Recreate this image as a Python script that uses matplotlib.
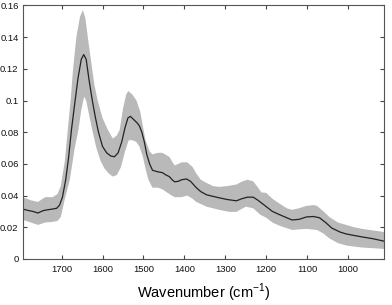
import numpy as np
import matplotlib
matplotlib.use("Agg")
import matplotlib.pyplot as plt
from matplotlib.ticker import FuncFormatter

plt.rcParams['font.family'] = ['Liberation Sans', 'DejaVu Sans']

wn_mean = [1795, 1780, 1770, 1758, 1745, 1735, 1722, 1712, 1705, 1698, 1690, 1683, 1676,
           1668, 1660, 1652, 1646, 1640, 1633, 1625, 1618, 1610, 1600, 1590, 1580, 1571,
           1562, 1553, 1545, 1538, 1532, 1524, 1516, 1510, 1504, 1498, 1492, 1485, 1478,
           1465, 1454, 1445, 1437, 1430, 1424, 1415, 1407, 1395, 1385, 1371, 1360, 1346,
           1330, 1315, 1295, 1273, 1260, 1246, 1232, 1220, 1210, 1200, 1185, 1168, 1150,
           1137, 1120, 1102, 1085, 1070, 1055, 1040, 1020, 1005, 985, 966, 940, 912]
mean = [0.0315, 0.0305, 0.030, 0.029, 0.0305, 0.031, 0.0315, 0.032, 0.034, 0.039, 0.050,
        0.064, 0.0815, 0.098, 0.114, 0.126, 0.129, 0.126, 0.113, 0.100, 0.090, 0.080,
        0.071, 0.067, 0.065, 0.0645, 0.067, 0.074, 0.083, 0.089, 0.090, 0.088, 0.086,
        0.084, 0.080, 0.074, 0.066, 0.060, 0.056, 0.055, 0.0545, 0.053, 0.052, 0.050,
        0.0487, 0.049, 0.050, 0.0505, 0.049, 0.045, 0.0425, 0.0405, 0.0395, 0.0386,
        0.0375, 0.0367, 0.038, 0.039, 0.039, 0.037, 0.035, 0.033, 0.030, 0.028, 0.026,
        0.0246, 0.025, 0.0265, 0.0268, 0.026, 0.023, 0.0195, 0.017, 0.0158, 0.0148,
        0.0139, 0.0128, 0.0112]

wn_upper = [1795, 1775, 1758, 1740, 1722, 1710, 1702, 1692, 1685, 1678, 1672, 1664, 1655,
            1648, 1642, 1635, 1627, 1620, 1612, 1600, 1588, 1575, 1565, 1558, 1550, 1542,
            1537, 1528, 1517, 1508, 1502, 1495, 1485, 1478, 1465, 1454, 1437, 1424, 1415,
            1407, 1393, 1380, 1371, 1360, 1346, 1330, 1315, 1295, 1273, 1258, 1246, 1232,
            1220, 1212, 1200, 1185, 1168, 1150, 1137, 1120, 1102, 1085, 1076, 1060, 1046,
            1025, 1005, 985, 966, 940, 912]
upper = [0.039, 0.037, 0.036, 0.039, 0.039, 0.041, 0.046, 0.062, 0.0815, 0.100, 0.120,
         0.140, 0.153, 0.157, 0.152, 0.138, 0.123, 0.110, 0.100, 0.089, 0.082, 0.076,
         0.078, 0.0815, 0.095, 0.104, 0.106, 0.104, 0.100, 0.093, 0.0845, 0.075, 0.068,
         0.066, 0.067, 0.067, 0.0645, 0.059, 0.060, 0.061, 0.061, 0.058, 0.054, 0.050,
         0.048, 0.046, 0.0455, 0.046, 0.047, 0.049, 0.050, 0.049, 0.045, 0.042, 0.0417,
         0.038, 0.035, 0.032, 0.031, 0.032, 0.0335, 0.034, 0.0335, 0.030, 0.0265, 0.023,
         0.0215, 0.020, 0.019, 0.018, 0.017]

wn_lower = [1795, 1775, 1758, 1740, 1722, 1710, 1702, 1692, 1680, 1668, 1659, 1652, 1645,
            1640, 1632, 1624, 1615, 1605, 1595, 1585, 1575, 1565, 1555, 1545, 1536, 1528,
            1518, 1510, 1502, 1495, 1488, 1478, 1465, 1454, 1437, 1424, 1407, 1393, 1380,
            1371, 1346, 1315, 1290, 1273, 1250, 1232, 1215, 1200, 1185, 1168, 1137, 1102,
            1076, 1060, 1046, 1025, 1005, 985, 966, 940, 912]
lower = [0.0247, 0.023, 0.0215, 0.023, 0.0234, 0.024, 0.0265, 0.038, 0.050, 0.070,
         0.0815, 0.094, 0.1025, 0.100, 0.090, 0.080, 0.070, 0.062, 0.057, 0.054, 0.052,
         0.053, 0.058, 0.068, 0.075, 0.075, 0.074, 0.071, 0.065, 0.057, 0.050, 0.045,
         0.045, 0.044, 0.041, 0.039, 0.039, 0.040, 0.038, 0.036, 0.033, 0.031, 0.0297,
         0.0297, 0.033, 0.032, 0.028, 0.026, 0.023, 0.021, 0.0183, 0.019, 0.0183, 0.016,
         0.013, 0.010, 0.0085, 0.0078, 0.0072, 0.0068, 0.0063]

xticks = [1700, 1600, 1500, 1400, 1300, 1200, 1100, 1000]
yticks = [0, 0.02, 0.04, 0.06, 0.08, 0.1, 0.12, 0.14, 0.16]

fig = plt.figure(figsize=(3.92, 3.05), dpi=100)
ax = fig.add_axes([0.058, 0.151, 0.922, 0.831])

poly_x = np.concatenate([wn_upper, wn_lower[::-1]])
poly_y = np.concatenate([upper, lower[::-1]])
ax.fill(poly_x, poly_y, color='#b9b9b9', lw=0)
ax.plot(wn_mean, mean, color='#222222', lw=0.9)

ax.set_xlim(1795, 912)
ax.set_ylim(0, 0.16)
ax.set_xticks(xticks)
ax.set_yticks(yticks)
ax.yaxis.set_major_formatter(FuncFormatter(lambda v, p: ('%g' % round(v, 4))))
ax.tick_params(direction='in', length=3, width=0.8, top=True, right=True,
               labelsize=6.8, color='#444444', labelcolor='#111111', pad=4)
ax.tick_params(axis='y', pad=3)
for s in ax.spines.values():
    s.set_color('#555555')
    s.set_linewidth(0.8)
ax.set_xlabel('Wavenumber (cm$^{\\mathregular{-1}}$)', fontsize=10.5, labelpad=6)

fig.savefig('out.png', dpi=100)
